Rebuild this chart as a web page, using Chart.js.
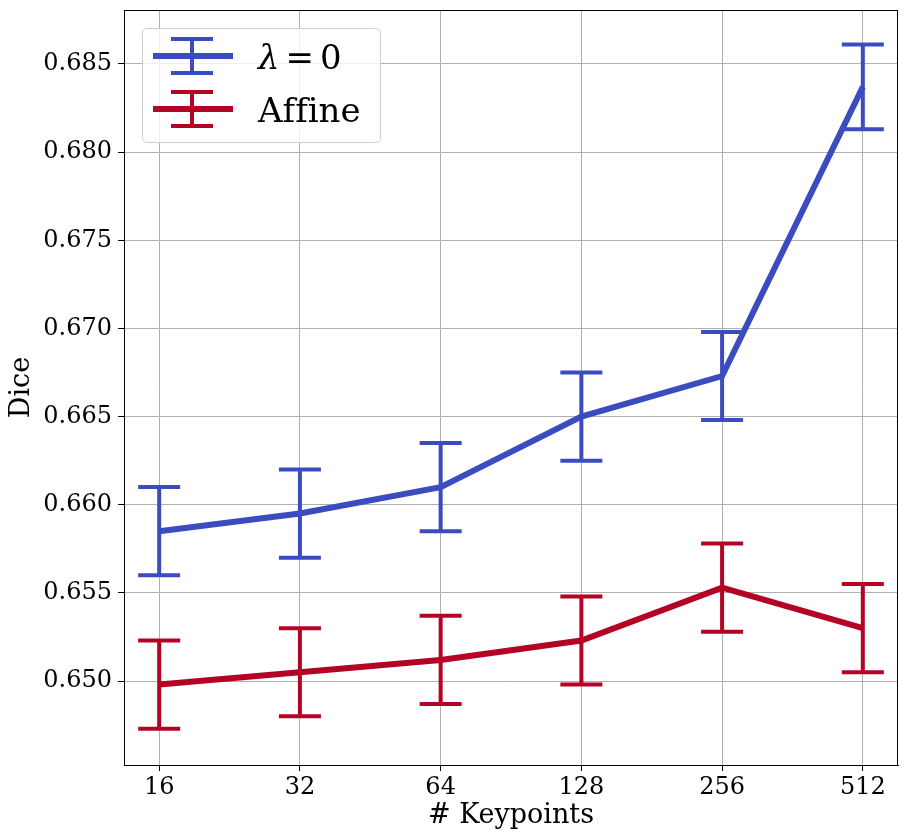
<!DOCTYPE html>
<html>
<head>
<meta charset="utf-8">
<script src="https://cdn.jsdelivr.net/npm/chart.js@4.4.0/dist/chart.umd.min.js"></script>
<style>
  html, body { margin: 0; padding: 0; background: #fff; }
  #wrap { width: 908px; height: 840px; position: relative; }
</style>
</head>
<body>
<div id="wrap"><canvas id="c" width="908" height="840"></canvas></div>
<script>
// ---- data ----
const keypoints = ['16', '32', '64', '128', '256', '512'];
const seriesLabels = ['λ = 0', 'Affine'];
const lambda0 = [0.6585, 0.6595, 0.6610, 0.6650, 0.6673, 0.6837];
const lambda0Err = [0.0025, 0.0025, 0.0025, 0.0025, 0.0025, 0.0024];
const affine = [0.6498, 0.6505, 0.6512, 0.6523, 0.6553, 0.6530];
const affineErr = [0.0025, 0.0025, 0.0025, 0.0025, 0.0025, 0.0025];
const yTicks = [0.650, 0.655, 0.660, 0.665, 0.670, 0.675, 0.680, 0.685];
const colors = ['#3b4cc0', '#b40426'];

const FONT = "'DejaVu Serif', serif";

function toPoints(vals) { return vals.map((v, i) => ({ x: i, y: v })); }

const errorBars = {
  id: 'errorBars',
  afterDatasetsDraw(chart) {
    const ctx = chart.ctx, xs = chart.scales.x, ys = chart.scales.y;
    chart.data.datasets.forEach(ds => {
      ctx.save();
      ctx.strokeStyle = ds.borderColor;
      ctx.lineWidth = 4;
      ds.data.forEach((p, i) => {
        const e = ds.errors[i];
        const px = xs.getPixelForValue(p.x);
        const top = ys.getPixelForValue(p.y + e);
        const bot = ys.getPixelForValue(p.y - e);
        ctx.beginPath();
        ctx.moveTo(px, top); ctx.lineTo(px, bot);
        ctx.moveTo(px - 21, top); ctx.lineTo(px + 21, top);
        ctx.moveTo(px - 21, bot); ctx.lineTo(px + 21, bot);
        ctx.stroke();
      });
      ctx.restore();
    });
  }
};

const frameAndLegend = {
  id: 'frameAndLegend',
  afterDraw(chart) {
    const ctx = chart.ctx, a = chart.chartArea;
    ctx.save();
    ctx.strokeStyle = '#000';
    ctx.lineWidth = 1;
    ctx.strokeRect(Math.round(a.left) + 0.5, Math.round(a.top) + 0.5, Math.round(a.right - a.left) - 1, Math.round(a.bottom - a.top));
    // legend box
    const bx = 142.5, by = 28.5, bw = 238, bh = 114, r = 5;
    ctx.beginPath();
    ctx.moveTo(bx + r, by);
    ctx.lineTo(bx + bw - r, by); ctx.quadraticCurveTo(bx + bw, by, bx + bw, by + r);
    ctx.lineTo(bx + bw, by + bh - r); ctx.quadraticCurveTo(bx + bw, by + bh, bx + bw - r, by + bh);
    ctx.lineTo(bx + r, by + bh); ctx.quadraticCurveTo(bx, by + bh, bx, by + bh - r);
    ctx.lineTo(bx, by + r); ctx.quadraticCurveTo(bx, by, bx + r, by);
    ctx.closePath();
    ctx.fillStyle = 'rgba(255,255,255,0.8)';
    ctx.fill();
    ctx.strokeStyle = '#cccccc';
    ctx.stroke();
    const rows = [56, 109];
    chart.data.datasets.forEach((ds, k) => {
      const cy = rows[k];
      ctx.strokeStyle = ds.borderColor;
      ctx.lineWidth = 6;
      ctx.beginPath(); ctx.moveTo(153, cy); ctx.lineTo(233, cy); ctx.stroke();
      ctx.lineWidth = 4;
      ctx.beginPath();
      ctx.moveTo(192, cy - 17); ctx.lineTo(192, cy + 17);
      ctx.moveTo(171, cy - 17); ctx.lineTo(213, cy - 17);
      ctx.moveTo(171, cy + 17); ctx.lineTo(213, cy + 17);
      ctx.stroke();
      ctx.fillStyle = '#000';
      ctx.textBaseline = 'alphabetic';
      ctx.textAlign = 'left';
      const label = ds.label;
      let x = 258;
      const baseY = cy + 13;
      for (const ch of label) {
        if (ch === 'λ') ctx.font = 'italic 34px ' + FONT;
        else ctx.font = '34px ' + FONT;
        if (ch === ' ') { x += 6; continue; }
        ctx.fillText(ch, x, baseY);
        x += ctx.measureText(ch).width;
      }
    });
    ctx.restore();
  }
};

new Chart(document.getElementById('c'), {
  type: 'line',
  data: {
    datasets: [
      { label: seriesLabels[0], data: toPoints(lambda0), errors: lambda0Err, borderColor: colors[0], backgroundColor: colors[0], borderWidth: 6, pointRadius: 0, tension: 0, fill: false },
      { label: seriesLabels[1], data: toPoints(affine), errors: affineErr, borderColor: colors[1], backgroundColor: colors[1], borderWidth: 6, pointRadius: 0, tension: 0, fill: false }
    ]
  },
  options: {
    responsive: false,
    animation: false,
    devicePixelRatio: 1,
    layout: { padding: { top: 10, right: 10, left: 0, bottom: 0 } },
    plugins: { legend: { display: false }, tooltip: { enabled: false } },
    scales: {
      x: {
        type: 'linear', min: -0.25, max: 5.25,
        afterBuildTicks: s => { s.ticks = keypoints.map((_, i) => ({ value: i })); },
        afterFit: s => { s.height = 75; s.paddingLeft = 0; s.paddingRight = 0; },
        ticks: { callback: (v) => keypoints[v], color: '#000', font: { family: FONT, size: 24 }, padding: 2, maxRotation: 0 },
        grid: { color: '#b0b0b0', lineWidth: 1, tickColor: '#000', tickLength: 6, drawTicks: true },
        border: { display: true, color: '#000', width: 1 },
        title: { display: true, text: '# Keypoints', color: '#000', font: { family: FONT, size: 27 }, padding: { top: 0, bottom: 8 } }
      },
      y: {
        type: 'linear', min: 0.64524, max: 0.68806,
        afterBuildTicks: s => { s.ticks = yTicks.map(v => ({ value: v })); },
        afterFit: s => { s.width = 124; s.paddingTop = 0; s.paddingBottom = 0; },
        ticks: { callback: (v) => v.toFixed(3), color: '#000', font: { family: FONT, size: 24 }, padding: 6 },
        grid: { color: '#b0b0b0', lineWidth: 1, tickColor: '#000', tickLength: 6, drawTicks: true },
        border: { display: true, color: '#000', width: 1 },
        title: { display: true, text: 'Dice', color: '#000', font: { family: FONT, size: 27 }, padding: { top: 6, bottom: 0 } }
      }
    }
  },
  plugins: [errorBars, frameAndLegend]
});
</script>
</body>
</html>
